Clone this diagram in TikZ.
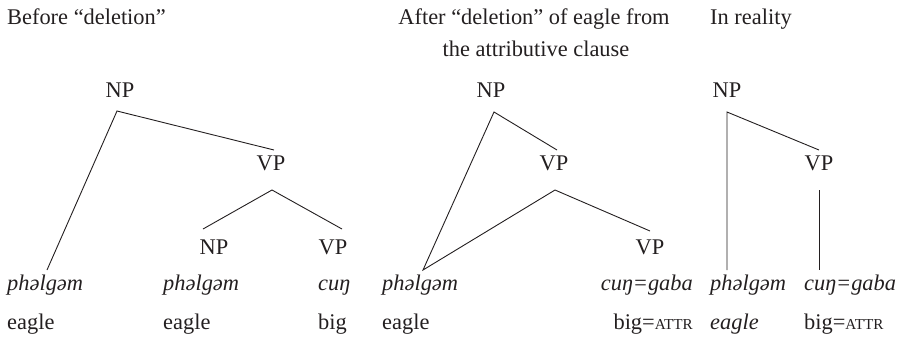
\documentclass[tikz,border=0pt]{standalone}
\usepackage{fontspec}
\setmainfont{Liberation Serif}
\usetikzlibrary{calc}
\definecolor{ink}{RGB}{35,31,32}
\newcommand{\attrsc}{{\fontsize{15.2}{18}\selectfont ATTR}}
\begin{document}
\begin{tikzpicture}[x=1pt,y=-1pt,
  every node/.style={inner sep=0pt, text=ink, font=\fontsize{22.4}{27}\selectfont},
  cat/.style={anchor=base},
  word/.style={anchor=base west, font=\fontsize{22.4}{27}\selectfont\itshape},
  gloss/.style={anchor=base west},
  branch/.style={draw=ink, line width=0.9pt}]
\useasboundingbox (0,0) rectangle (901,346);

% headings
\node[anchor=base west] (h1) at (7,24) {Before “deletion”};
\node[anchor=base] (h2) at (534,24) {After “deletion” of eagle from};
\node[anchor=base] (h2b) at (536,56) {the attributive clause};
\node[anchor=base west] (h3) at (710,24) {In reality};

% tree 1: before deletion
\node[cat] (np1) at (120,97) {NP};
\node[cat] (vp1) at (271,170) {VP};
\node[cat] (np1b) at (214,254) {NP};
\node[cat] (vp1b) at (333,254) {VP};
\node[word] (w1a) at (7,290) {phəlgəm};
\node[word] (w1b) at (163,290) {phəlgəm};
\node[word] (w1c) at (318,290) {cuŋ};
\node[gloss] (g1a) at (7,329) {eagle};
\node[gloss] (g1b) at (163,329) {eagle};
\node[gloss] (g1c) at (318,329) {big};

\draw[branch] ($(w1a.base west)+(40,-20)$) -- ($(np1.base)+(-3,14)$) -- ($(vp1.base)+(3,-20)$);
\draw[branch] ($(np1b.base)+(-11,-25)$) -- ($(vp1.base)+(1,20)$) -- ($(vp1b.base)+(9,-25)$);

% tree 2: after deletion
\node[cat] (np2) at (491,97) {NP};
\node[cat] (vp2) at (554,170) {VP};
\node[cat] (vp2b) at (650,254) {VP};
\node[word] (w2a) at (382,290) {phəlgəm};
\node[word, anchor=base east] (w2b) at (693,290) {cuŋ=gaba};
\node[gloss] (g2a) at (382,329) {eagle};
\node[gloss, anchor=base east] (g2b) at (693,329) {big=\attrsc};

\draw[branch] ($(vp2.base)+(3,-20)$) -- ($(np2.base)+(3,15)$) -- ($(w2a.base west)+(41,-20)$) -- ($(vp2.base)+(1,20)$) -- ($(vp2b.base)+(0,-23)$);

% tree 3: in reality
\node[cat] (np3) at (727,97) {NP};
\node[cat] (vp3) at (819,170) {VP};
\node[word] (w3a) at (710,290) {phəlgəm};
\node[word] (w3b) at (804,290) {cuŋ=gaba};
\node[word] (g3a) at (710,329) {eagle};
\node[gloss] (g3b) at (804,329) {big=\attrsc};

\draw[branch] ($(vp3.base)+(0,-20)$) -- ($(np3.base)+(0,15)$) -- ($(w3a.base west)+(17,-20)$);
\draw[branch] ($(vp3.base)+(0,20)$) -- ($(w3b.base west)+(15,-20)$);
\end{tikzpicture}
\end{document}
